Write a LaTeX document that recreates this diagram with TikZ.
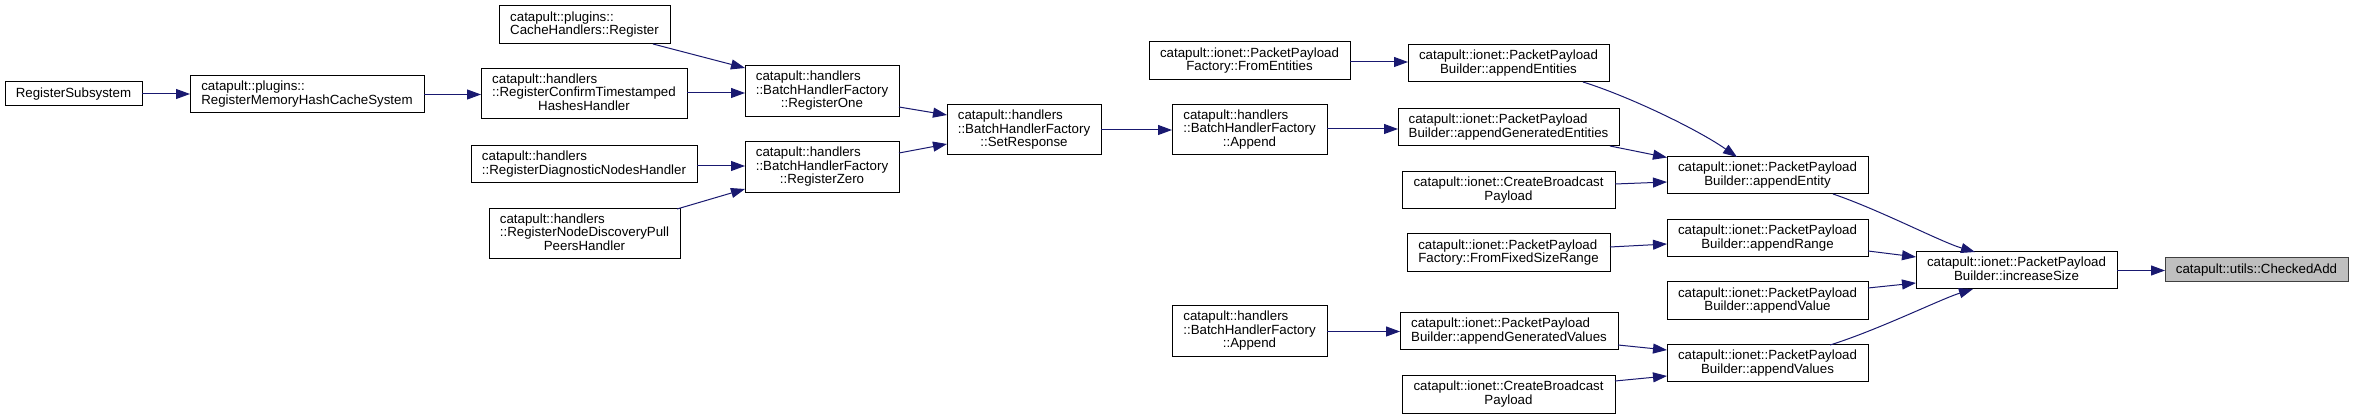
\documentclass[tikz,border=0pt]{standalone}
\usepackage{fontspec}
\setmainfont{Liberation Sans}
\usetikzlibrary{arrows.meta}
\definecolor{edgeblue}{HTML}{191970}
\definecolor{hlgray}{HTML}{BFBFBF}
\newcommand{\labtwo}[2]{\begin{tabular}{@{}l@{}}#1\\\multicolumn{1}{@{}c@{}}{#2}\end{tabular}}
\newcommand{\labthree}[3]{\begin{tabular}{@{}l@{}}#1\\#2\\\multicolumn{1}{@{}c@{}}{#3}\end{tabular}}
\begin{document}
\begin{tikzpicture}[x=1pt,y=-1pt,
  fnbox/.style={draw=black,line width=1pt,fill=white,inner sep=0pt,outer sep=0pt,
    font=\fontsize{13.3}{13.5}\selectfont},
  edge/.style={draw=edgeblue,line width=1pt,-{Triangle[length=14pt,width=10pt]}}]
\renewcommand{\arraystretch}{0.96}
\useasboundingbox[fill=white] (0,0) rectangle (2353,419);
% nodes
\node[fnbox,minimum width=137pt,minimum height=24pt] (regsub) at (73.5,94) {RegisterSubsystem};
\node[fnbox,minimum width=234pt,minimum height=37pt] (regmem) at (307,94.5) {\labtwo{catapult::plugins::}{RegisterMemoryHashCacheSystem}};
\node[fnbox,minimum width=171pt,minimum height=38pt] (cachereg) at (584.5,25) {\labtwo{catapult::plugins::}{CacheHandlers::Register}};
\node[fnbox,minimum width=206pt,minimum height=50pt] (regconf) at (584,94) {\labthree{catapult::handlers}{::RegisterConfirmTimestamped}{HashesHandler}};
\node[fnbox,minimum width=154pt,minimum height=51pt] (regone) at (822,91.5) {\labthree{catapult::handlers}{::BatchHandlerFactory}{::RegisterOne}};
\node[fnbox,minimum width=226pt,minimum height=37pt] (regdiag) at (584,164.5) {\labtwo{catapult::handlers}{::RegisterDiagnosticNodesHandler}};
\node[fnbox,minimum width=154pt,minimum height=51pt] (regzero) at (822,167.5) {\labthree{catapult::handlers}{::BatchHandlerFactory}{::RegisterZero}};
\node[fnbox,minimum width=191pt,minimum height=50pt] (regnode) at (584.5,234) {\labthree{catapult::handlers}{::RegisterNodeDiscoveryPull}{PeersHandler}};
\node[fnbox,minimum width=154pt,minimum height=50pt] (setresp) at (1024,130) {\labthree{catapult::handlers}{::BatchHandlerFactory}{::SetResponse}};
\node[fnbox,minimum width=201pt,minimum height=38pt] (froment) at (1249.5,61) {\labtwo{catapult::ionet::PacketPayload}{Factory::FromEntities}};
\node[fnbox,minimum width=155pt,minimum height=50pt] (appendone) at (1249.5,130) {\labthree{catapult::handlers}{::BatchHandlerFactory}{::Append}};
\node[fnbox,minimum width=155pt,minimum height=51pt] (appendtwo) at (1249.5,331.5) {\labthree{catapult::handlers}{::BatchHandlerFactory}{::Append}};
\node[fnbox,minimum width=201pt,minimum height=37pt] (appents) at (1508.5,63.5) {\labtwo{catapult::ionet::PacketPayload}{Builder::appendEntities}};
\node[fnbox,minimum width=221pt,minimum height=37pt] (appgenents) at (1508.5,127.5) {\labtwo{catapult::ionet::PacketPayload}{Builder::appendGeneratedEntities}};
\node[fnbox,minimum width=213pt,minimum height=37pt] (cbpone) at (1508.5,190.5) {\labtwo{catapult::ionet::CreateBroadcast}{Payload}};
\node[fnbox,minimum width=201pt,minimum height=37pt] (appentity) at (1767.5,175.5) {\labtwo{catapult::ionet::PacketPayload}{Builder::appendEntity}};
\node[fnbox,minimum width=203pt,minimum height=38pt] (fromfixed) at (1508.5,253) {\labtwo{catapult::ionet::PacketPayload}{Factory::FromFixedSizeRange}};
\node[fnbox,minimum width=201pt,minimum height=37pt] (apprange) at (1767.5,238.5) {\labtwo{catapult::ionet::PacketPayload}{Builder::appendRange}};
\node[fnbox,minimum width=201pt,minimum height=38pt] (appvalue) at (1767.5,301) {\labtwo{catapult::ionet::PacketPayload}{Builder::appendValue}};
\node[fnbox,minimum width=218pt,minimum height=37pt] (appgenvals) at (1509,331.5) {\labtwo{catapult::ionet::PacketPayload}{Builder::appendGeneratedValues}};
\node[fnbox,minimum width=201pt,minimum height=37pt] (appvalues) at (1767.5,363.5) {\labtwo{catapult::ionet::PacketPayload}{Builder::appendValues}};
\node[fnbox,minimum width=213pt,minimum height=37pt] (cbptwo) at (1508.5,394.5) {\labtwo{catapult::ionet::CreateBroadcast}{Payload}};
\node[fnbox,minimum width=201pt,minimum height=37pt] (incsize) at (2016.5,270.5) {\labtwo{catapult::ionet::PacketPayload}{Builder::increaseSize}};
\node[fnbox,draw=black!75,fill=hlgray,minimum width=183pt,minimum height=24pt] (checked) at (2256.5,270) {catapult::utils::CheckedAdd};
% edges
\draw[edge] (regsub.east) -- (regsub.east -| regmem.west);
\draw[edge] (regmem.east) -- (regmem.east -| regconf.west);
\draw[edge] ([shift={(-17,0)}]cachereg.south east) -- ([shift={(0,2)}]regone.north west);
\draw[edge] ([shift={(0,-1)}]regconf.east) -- ([shift={(0,-1)}]regconf.east -| regone.west);
\draw[edge] ([shift={(0,1.5)}]regdiag.east) -- ([shift={(0,1.5)}]regdiag.east -| regzero.west);
\draw[edge] ([shift={(-3,0)}]regnode.north east) -- ([shift={(0,-4)}]regzero.south west);
\draw[edge] ([shift={(0,15.5)}]regone.east) -- ([shift={(0,-15)}]setresp.west);
\draw[edge] ([shift={(0,-14.5)}]regzero.east) -- ([shift={(0,14)}]setresp.west);
\draw[edge] (setresp.east) -- (setresp.east -| appendone.west);
\draw[edge] ([shift={(0,1)}]froment.east) -- ([shift={(0,1)}]froment.east -| appents.west);
\draw[edge] ([shift={(0,-1)}]appendone.east) -- ([shift={(0,-1)}]appendone.east -| appgenents.west);
\draw[edge] (appendtwo.east) -- (appendtwo.east -| appgenvals.west);
\draw[edge] ([shift={(-26,0)}]appents.south east) .. controls ([shift={(19,14)}]appents.south east) and ([shift={(30,-28)}]appentity.north west) .. ([shift={(70,0)}]appentity.north west);
\draw[edge] ([shift={(-9,0)}]appgenents.south east) -- ([shift={(0,0.5)}]appentity.north west);
\draw[edge] ([shift={(0,-6.5)}]cbpone.east) -- ([shift={(0,6.5)}]appentity.west);
\draw[edge] ([shift={(0,-6)}]fromfixed.east) -- ([shift={(0,5.5)}]apprange.west);
\draw[edge] ([shift={(0,13.5)}]appgenvals.east) -- ([shift={(0,-13.5)}]appvalues.west);
\draw[edge] ([shift={(0,-13.5)}]cbptwo.east) -- ([shift={(0,12.5)}]appvalues.west);
\draw[edge] ([shift={(-35,0)}]appentity.south east) .. controls ([shift={(12,16)}]appentity.south east) and ([shift={(25,-10)}]incsize.north west) .. ([shift={(59,0)}]incsize.north west);
\draw[edge] ([shift={(0,12.5)}]apprange.east) -- ([shift={(0,-13.5)}]incsize.west);
\draw[edge] ([shift={(0,-13)}]appvalue.east) -- ([shift={(0,12.5)}]incsize.west);
\draw[edge] ([shift={(-38,0)}]appvalues.north east) .. controls ([shift={(10,-15)}]appvalues.north east) and ([shift={(25,10)}]incsize.south west) .. ([shift={(57,0)}]incsize.south west);
\draw[edge] (incsize.east) -- (incsize.east -| checked.west);
\end{tikzpicture}
\end{document}
